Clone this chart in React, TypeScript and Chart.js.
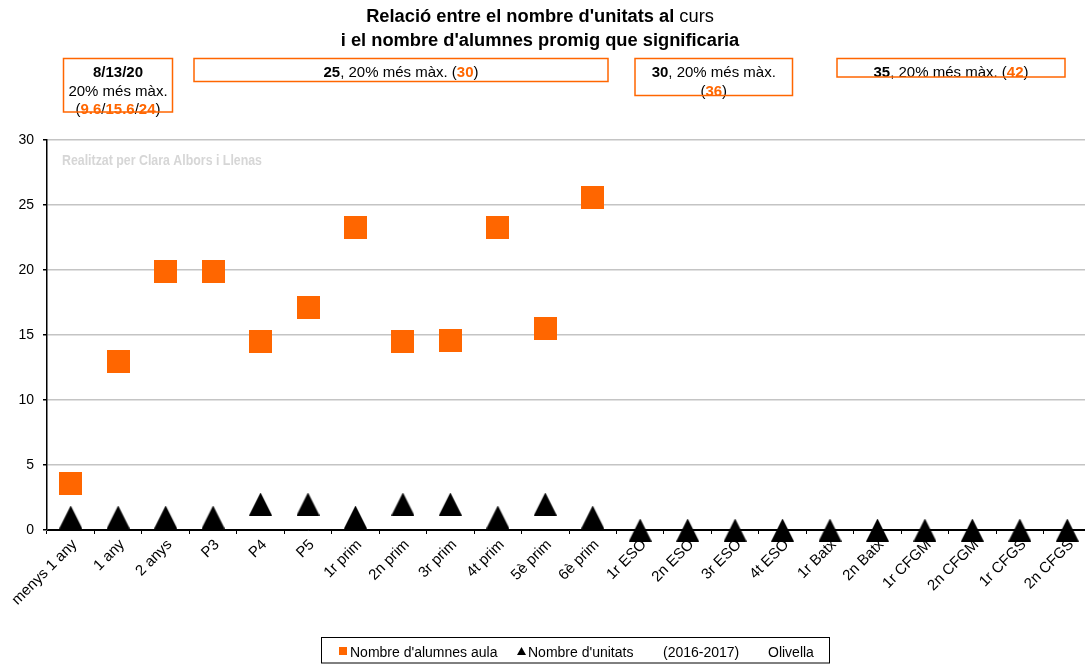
import React, { useEffect, useRef } from 'react';
import { Chart, registerables } from 'chart.js';

Chart.register(...registerables);

// ---------- data ----------
const categories = [
  'menys 1 any', '1 any', '2 anys', 'P3', 'P4', 'P5',
  '1r prim', '2n prim', '3r prim', '4t prim', '5è prim', '6è prim',
  '1r ESO', '2n ESO', '3r ESO', '4t ESO', '1r Batx', '2n Batx',
  '1r CFGM', '2n CFGM', '1r CFGS', '2n CFGS',
];
const alumnesAula: (number | null)[] = [
  3.6, 13, 19.9, 19.9, 14.5, 17.1, 23.3, 14.5, 14.6, 23.3, 15.5, 25.6,
  null, null, null, null, null, null, null, null, null, null,
];
const unitats = [1, 1, 1, 1, 2, 2, 1, 2, 2, 1, 2, 1, 0, 0, 0, 0, 0, 0, 0, 0, 0, 0];
const yMin = 0;
const yMax = 30;
const yStep = 5;
const legendLabels = ["Nombre d'alumnes aula", "Nombre d'unitats", '(2016-2017)', 'Olivella'];
const titleLine1Bold = "Relació entre el nombre d'unitats al";
const titleLine1Normal = ' curs';
const titleLine2 = "i el nombre d'alumnes promig que significaria";
const watermark = 'Realitzat per Clara Albors i Llenas';

type Seg = { t: string; b?: boolean; o?: boolean };
const box1Lines: Seg[][] = [
  [{ t: '8/13/20', b: true }],
  [{ t: '20% més màx.' }],
  [{ t: '(' }, { t: '9.6', b: true, o: true }, { t: '/' }, { t: '15.6', b: true, o: true }, { t: '/' }, { t: '24', b: true, o: true }, { t: ')' }],
];
const box2Lines: Seg[][] = [
  [{ t: '25', b: true }, { t: ', 20% més màx. (' }, { t: '30', b: true, o: true }, { t: ')' }],
];
const box3Lines: Seg[][] = [
  [{ t: '30', b: true }, { t: ', 20% més màx.' }],
  [{ t: '(' }, { t: '36', b: true, o: true }, { t: ')' }],
];
const box4Lines: Seg[][] = [
  [{ t: '35', b: true }, { t: ', 20% més màx. (' }, { t: '42', b: true, o: true }, { t: ')' }],
];

// ---------- styles ----------
const ORANGE = '#ff6600';
const FONT = '"Liberation Sans", Arial, sans-serif';
const CANVAS_W = 1104;
const CANVAS_H = 664;

function drawRich(ctx: CanvasRenderingContext2D, segs: Seg[], cx: number, baseline: number, size: number) {
  const font = (b?: boolean) => `${b ? 'bold ' : ''}${size}px ${FONT}`;
  let total = 0;
  for (const s of segs) {
    ctx.font = font(s.b);
    total += ctx.measureText(s.t).width;
  }
  let x = cx - total / 2;
  ctx.textAlign = 'left';
  ctx.textBaseline = 'alphabetic';
  for (const s of segs) {
    ctx.font = font(s.b);
    ctx.fillStyle = s.o ? ORANGE : '#000';
    ctx.fillText(s.t, x, baseline);
    x += ctx.measureText(s.t).width;
  }
}

function drawBox(ctx: CanvasRenderingContext2D, x: number, y: number, w: number, h: number, lines: Seg[][], baselines: number[]) {
  const cx = x + w / 2;
  lines.forEach((l, i) => drawRich(ctx, l, cx, baselines[i], 15));
  ctx.strokeStyle = ORANGE;
  ctx.lineWidth = 1.5;
  ctx.strokeRect(x, y, w, h);
}

const decorPlugin = {
  id: 'decor',
  beforeDatasetsDraw(chart: any) {
    const ctx: CanvasRenderingContext2D = chart.ctx;
    ctx.save();
    ctx.font = `bold 15px ${FONT}`;
    const w = ctx.measureText(watermark).width;
    const sx = 200 / w;
    ctx.translate(62, 165);
    ctx.scale(sx, 1);
    ctx.fillStyle = '#d6d6d6';
    ctx.textAlign = 'left';
    ctx.textBaseline = 'alphabetic';
    ctx.fillText(watermark, 0, 0);
    ctx.restore();
  },
  afterDraw(chart: any) {
    const ctx: CanvasRenderingContext2D = chart.ctx;
    ctx.save();
    // title
    drawRich(ctx, [{ t: titleLine1Bold, b: true }, { t: titleLine1Normal }], 540, 22, 18.3);
    drawRich(ctx, [{ t: titleLine2, b: true }], 540, 46, 18.3);
    // boxes
    drawBox(ctx, 63.5, 58.5, 109, 53.5, box1Lines, [77, 95.5, 113.5]);
    drawBox(ctx, 194, 58.5, 414, 23, box2Lines, [77]);
    drawBox(ctx, 635, 58.5, 157.5, 37, box3Lines, [77, 95.5]);
    drawBox(ctx, 837, 58.5, 228, 18.5, box4Lines, [77]);
    // legend
    ctx.strokeStyle = '#000';
    ctx.lineWidth = 1;
    ctx.strokeRect(321.5, 637.5, 508, 25.5);
    ctx.fillStyle = ORANGE;
    ctx.fillRect(339, 647, 8, 8);
    ctx.fillStyle = '#000';
    ctx.beginPath();
    ctx.moveTo(521.5, 647);
    ctx.lineTo(526, 655);
    ctx.lineTo(517, 655);
    ctx.closePath();
    ctx.fill();
    ctx.font = `14px ${FONT}`;
    ctx.textAlign = 'left';
    ctx.textBaseline = 'alphabetic';
    ctx.fillText(legendLabels[0], 350, 657);
    ctx.fillText(legendLabels[1], 528, 657);
    ctx.fillText(legendLabels[2], 663, 657);
    ctx.fillText(legendLabels[3], 768, 657);
    ctx.restore();
  },
};

function makeSquare(): HTMLCanvasElement {
  const c = document.createElement('canvas');
  c.width = 23;
  c.height = 23;
  const g = c.getContext('2d')!;
  g.fillStyle = ORANGE;
  g.fillRect(0, 0, 23, 23);
  return c;
}

function makeTriangle(): HTMLCanvasElement {
  const c = document.createElement('canvas');
  c.width = 23;
  c.height = 23;
  const g = c.getContext('2d')!;
  g.fillStyle = '#000';
  g.beginPath();
  g.moveTo(11.5, 0);
  g.lineTo(23, 23);
  g.lineTo(0, 23);
  g.closePath();
  g.fill();
  return c;
}

export default function App() {
  const ref = useRef<HTMLCanvasElement>(null);

  useEffect(() => {
    if (!ref.current) return;
    Chart.defaults.font.family = FONT;
    const sq = makeSquare();
    const tri = makeTriangle();
    const chart = new Chart(ref.current, {
      type: 'line',
      data: {
        labels: categories,
        datasets: [
          {
            label: legendLabels[0],
            data: alumnesAula,
            showLine: false,
            pointStyle: sq as any,
            pointRadius: 12,
            pointHoverRadius: 12,
            backgroundColor: ORANGE,
            borderColor: ORANGE,
            clip: false as any,
          },
          {
            label: legendLabels[1],
            data: unitats,
            showLine: false,
            pointStyle: tri as any,
            pointRadius: 12,
            pointHoverRadius: 12,
            backgroundColor: '#000',
            borderColor: '#000',
            clip: false as any,
          },
        ],
      },
      options: {
        animation: false,
        responsive: false,
        maintainAspectRatio: false,
        events: [],
        layout: { padding: { top: 140, left: 0, right: 0, bottom: 0 } },
        plugins: {
          legend: { display: false },
          title: { display: false },
          tooltip: { enabled: false },
        },
        scales: {
          x: {
            type: 'category',
            offset: true,
            grid: { offset: true, drawOnChartArea: false, color: '#000', tickColor: '#000', tickLength: 4 },
            border: { color: '#000', width: 1 },
            ticks: { color: '#000', font: { size: 15 }, minRotation: 45, maxRotation: 45, autoSkip: false, padding: 2, labelOffset: 4 },
            afterFit: (s: any) => {
              s.height = 134;
              s.paddingLeft = 0;
              s.paddingRight = 0;
            },
          },
          y: {
            min: yMin,
            max: yMax,
            ticks: { stepSize: yStep, color: '#000', font: { size: 14 }, padding: 9 },
            grid: {
              color: (c: any) => (c.tick && c.tick.value === 0 ? '#000' : '#c4c4c4'),
              lineWidth: 1.5,
              tickColor: '#000',
              tickLength: 4,
            },
            border: { color: '#000', width: 1.5 },
            afterFit: (s: any) => {
              s.width = 47;
              s.paddingTop = 0;
              s.paddingBottom = 0;
            },
          },
        },
      } as any,
      plugins: [decorPlugin],
    });
    return () => chart.destroy();
  }, []);

  return (
    <div style={{ position: 'fixed', left: 0, top: 0, width: 1085, height: 664, overflow: 'hidden', background: '#fff' }}>
      <canvas
        ref={ref}
        width={CANVAS_W}
        height={CANVAS_H}
        style={{ display: 'block', width: CANVAS_W, height: CANVAS_H, maxWidth: 'none' }}
      />
    </div>
  );
}
